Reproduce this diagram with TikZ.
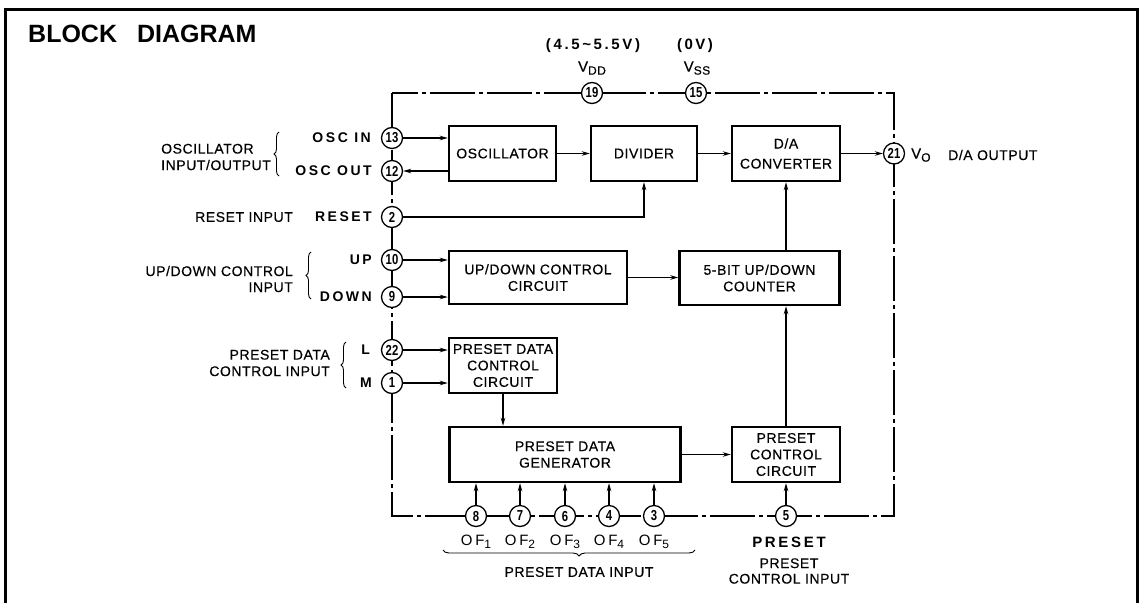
\documentclass[tikz,border=0pt]{standalone}
\usepackage{fontspec}
\setmainfont{Liberation Sans}
\newfontfamily\txt{Liberation Sans}[LetterSpace=4,FakeBold=0.4]
\newfontfamily\pinf{Liberation Sans}[LetterSpace=18]
\usetikzlibrary{arrows.meta,decorations.pathreplacing}
\newcommand{\pnum}[1]{\scalebox{0.78}[1]{#1}}
\begin{document}
\begin{tikzpicture}[x=1pt,y=-1pt,
  blk/.style={draw, line width=2.4pt, align=center, inner sep=0pt,
    font=\txt\fontsize{14}{16.5}\selectfont},
  pin/.style={circle, draw, line width=1.3pt, fill=white, minimum size=21pt,
    inner sep=0pt, font=\bfseries\fontsize{14.5}{14.5}\selectfont},
  conn/.style={line width=1.3pt, -{Stealth[length=8pt,width=4.5pt]}},
  lab/.style={inner sep=0pt, font=\txt\fontsize{14}{16}\selectfont},
  plab/.style={inner sep=0pt, font=\pinf\bfseries\fontsize{14}{16}\selectfont},
  bound/.style={line width=1.2pt, dash pattern=on 45pt off 4pt on 4pt off 4pt},
  brc/.style={line width=0.9pt, decorate, decoration={brace, amplitude=5pt}}
]
\useasboundingbox (0,0) rectangle (1139,603);
% outer frame
\draw[line width=3pt] (5,603) -- (5,9) -- (1137,9) -- (1137,603);
% title
\node[anchor=north west, inner sep=0pt, font=\bfseries\fontsize{25}{25}\selectfont] (title) at (28,25) {BLOCK\hspace{20pt}DIAGRAM};
% chip boundary
\draw[bound] (392,93) rectangle (894,516);
% blocks
\node[blk, minimum width=107pt, minimum height=55pt] (osc) at (502.5,153.5) {OSCILLATOR};
\node[blk, minimum width=106pt, minimum height=55pt] (div) at (644,153.5) {DIVIDER};
\node[blk, minimum width=108pt, minimum height=55pt, font=\txt\fontsize{14}{20}\selectfont] (dac) at (786,153.5) {D/A\\CONVERTER};
\node[blk, minimum width=178pt, minimum height=53pt] (udc) at (538,277.5) {UP/DOWN CONTROL\\CIRCUIT};
\node[blk, minimum width=160pt, minimum height=54pt] (cnt) at (759.5,278) {5-BIT UP/DOWN\\COUNTER};
\node[blk, minimum width=108pt, minimum height=55pt] (pdc) at (503,365.5) {PRESET DATA\\CONTROL\\CIRCUIT};
\node[blk, minimum width=231pt, minimum height=55pt] (pdg) at (565,454.5) {PRESET DATA\\GENERATOR};
\node[blk, minimum width=108pt, minimum height=55pt] (pcc) at (786,454.5) {PRESET\\CONTROL\\CIRCUIT};
% pins
\node[pin] (p13) at (392,138) {\pnum{13}};
\node[pin] (p12) at (392,171) {\pnum{12}};
\node[pin] (p2)  at (392,217) {\pnum{2}};
\node[pin] (p10) at (392,260) {\pnum{10}};
\node[pin] (p9)  at (392,297) {\pnum{9}};
\node[pin] (p22) at (392,350) {\pnum{22}};
\node[pin] (p1)  at (392,383) {\pnum{1}};
\node[pin] (p19) at (592,93) {\pnum{19}};
\node[pin] (p15) at (696,93) {\pnum{15}};
\node[pin] (p21) at (894,153.5) {\pnum{21}};
\node[pin] (p8) at (476,516) {\pnum{8}};
\node[pin] (p7) at (520,516) {\pnum{7}};
\node[pin] (p6) at (565,516) {\pnum{6}};
\node[pin] (p4) at (609,516) {\pnum{4}};
\node[pin] (p3) at (654,516) {\pnum{3}};
\node[pin] (p5) at (786,516) {\pnum{5}};
% connectors
\draw[conn] (p13) -- (osc.west |- p13);
\draw[conn] (osc.west |- p12) -- (p12);
\draw[conn] (osc) -- (div);
\draw[conn] (div) -- (dac);
\draw[conn] (dac) -- (p21);
\draw[conn] (p2) -| (div.south);
\draw[conn] (p10) -- (udc.west |- p10);
\draw[conn] (p9) -- (udc.west |- p9);
\draw[conn] (udc.east) -- (cnt.west |- udc.east);
\draw[conn] (cnt.north -| dac.south) -- (dac.south);
\draw[conn] (p22) -- (pdc.west |- p22);
\draw[conn] (p1) -- (pdc.west |- p1);
\draw[conn] (pdc.south) -- (pdg.north -| pdc.south);
\draw[conn] (pdg.east) -- (pcc.west);
\draw[conn] (pcc.north) -- (cnt.south -| pcc.north);
\foreach \p in {p8,p7,p6,p4,p3}{\draw[conn] (\p) -- (pdg.south -| \p);}
\draw[conn] (p5) -- (pcc.south);
% top labels
\node[plab, font=\pinf\bfseries\fontsize{15}{16}\selectfont] (vddr) at (593,46) {(4.5\,\textasciitilde\,5.5V)};
\node[plab, font=\pinf\bfseries\fontsize{15}{16}\selectfont] (vssr) at (695,46) {(\,0\,V\,)};
\node[lab, font=\txt\fontsize{15}{16}\selectfont] (vdd) at (592,68) {V\raisebox{-3pt}{\fontsize{12}{12}\selectfont DD}};
\node[lab, font=\txt\fontsize{15}{16}\selectfont] (vss) at (697,68) {V\raisebox{-3pt}{\fontsize{12}{12}\selectfont SS}};
% right labels
\node[lab, anchor=west, font=\txt\fontsize{15}{16}\selectfont] (vo) at (911,155) {V\raisebox{-3pt}{\fontsize{12}{12}\selectfont O}};
\node[lab, anchor=west] (daout) at (948,155) {D/A OUTPUT};
% left labels
\node[plab, anchor=east] (loscin) at (371,138) {OSC IN};
\node[plab, anchor=east] (loscout) at (372,171) {OSC OUT};
\draw[brc] (279,176) -- (279,132);
\node[lab, anchor=west, align=left, font=\txt\fontsize{14}{16.5}\selectfont] (losc) at (161,157) {OSCILLATOR\\INPUT/OUTPUT};
\node[plab, anchor=east] (lreset) at (372,217) {RESET};
\node[lab, anchor=east] (lresetin) at (293,217) {RESET INPUT};
\node[plab, anchor=east] (lup) at (372,260) {UP};
\node[plab, anchor=east] (ldown) at (372,297) {DOWN};
\draw[brc] (311,299) -- (311,252);
\node[lab, anchor=east, align=right, font=\txt\fontsize{14}{16}\selectfont] (lud) at (293,279) {UP/DOWN CONTROL\\INPUT};
\node[plab, anchor=east] (ll) at (370,350) {L};
\node[plab, anchor=east] (lm) at (372,383) {M};
\draw[brc] (346,388) -- (346,342);
\node[lab, anchor=east, align=right, font=\txt\fontsize{14}{16.5}\selectfont] (lpd) at (330,363) {PRESET DATA\\CONTROL INPUT};
% bottom labels
\foreach \p/\i in {p8/1,p7/2,p6/3,p4/4,p3/5}{
  \node[lab, font=\pinf\fontsize{15}{16}\selectfont] at ([yshift=-26pt]\p.center) {OF\raisebox{-3pt}{\fontsize{12}{12}\selectfont\i}};}
\node[plab, font=\pinf\bfseries\fontsize{15}{16}\selectfont] (lpreset) at (789,542) {PRESET};
\node[lab, align=center, font=\txt\fontsize{14}{15.5}\selectfont] (lpci) at (789,571) {PRESET\\CONTROL INPUT};
\draw[brc, decoration={brace, amplitude=6pt, aspect=0.46}] (695,550) -- (443,550);
\node[lab] (lpdi) at (579,572) {PRESET DATA INPUT};
\end{tikzpicture}
\end{document}
